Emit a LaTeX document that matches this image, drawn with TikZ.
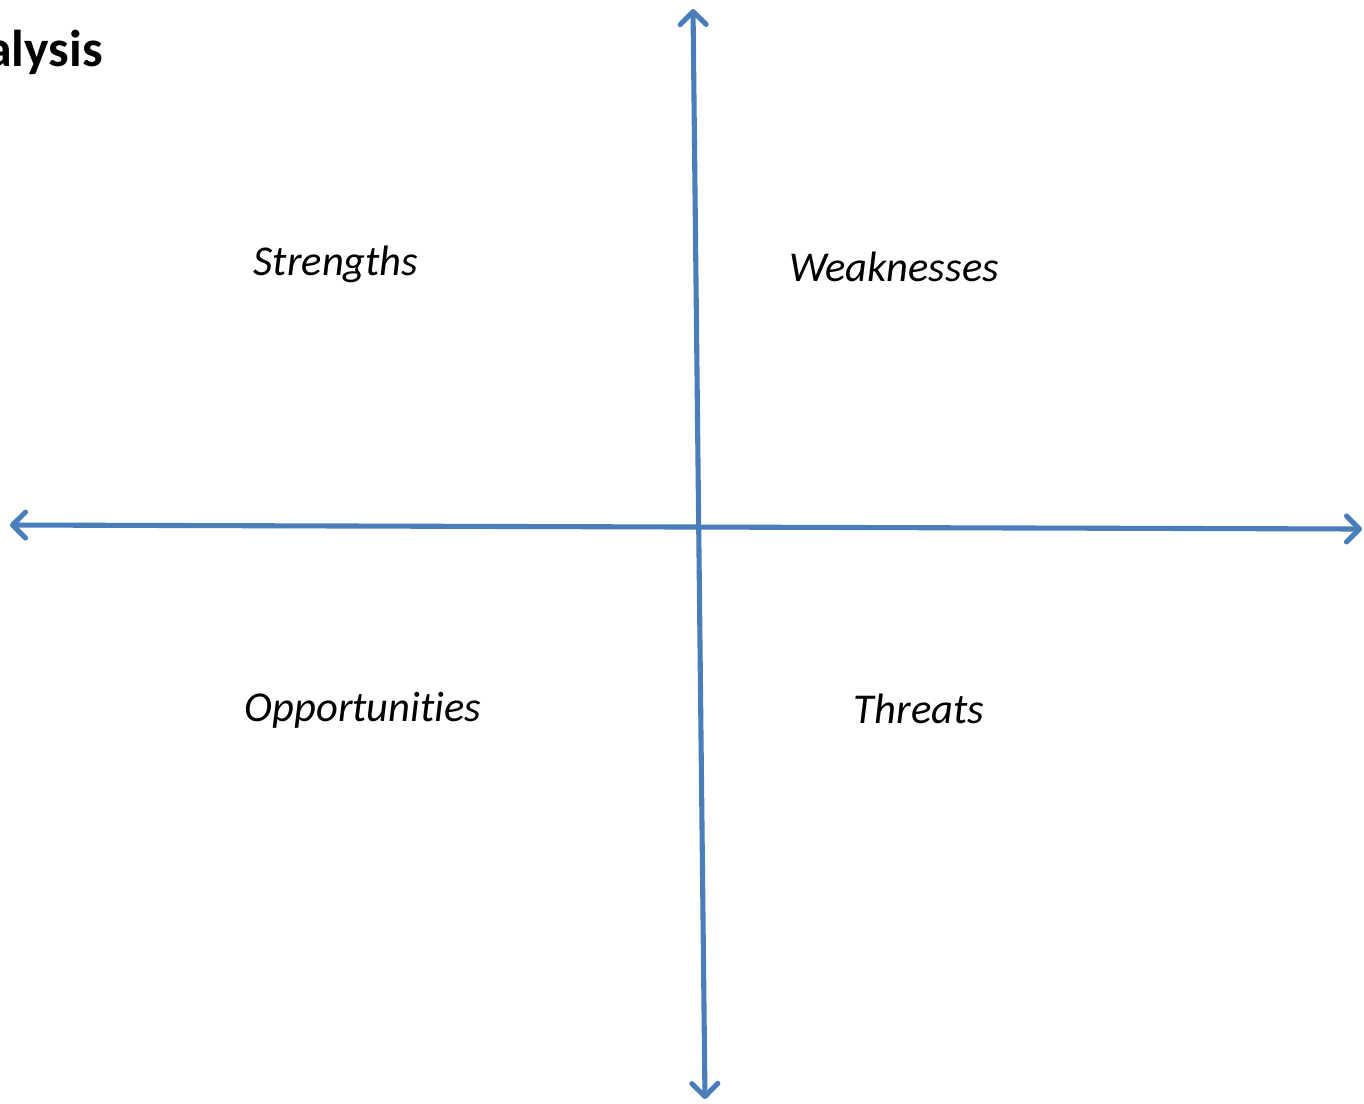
\documentclass[tikz,border=0pt]{standalone}
\usepackage{fontspec}
\setmainfont{Carlito}[Ligatures=NoCommon]
\usetikzlibrary{arrows.meta}
\definecolor{axisblue}{HTML}{4A7EBB}
\tikzset{
  axisline/.style={draw=axisblue, line width=2.9pt,
    {Straight Barb[length=0.26cm, width=0.52cm, round]}-{Straight Barb[length=0.26cm, width=0.52cm, round]}},
  quadlabel/.style={font=\fontsize{24.2}{29}\selectfont\itshape, inner sep=0pt}
}
\begin{document}
\begin{tikzpicture}[x=0.02cm, y=-0.02cm]
\useasboundingbox (0,0) rectangle (1364,1103);
% axes
\coordinate (top) at (693, 9);
\coordinate (bottom) at (705, 1099);
\coordinate (left) at (10, 525);
\coordinate (right) at (1362, 529);
\draw[axisline] (left) -- (right);
\draw[axisline] (top) -- (bottom);
% title, cut off at the left edge
\node[anchor=base east, font=\fontsize{29.5}{34}\selectfont\bfseries, inner sep=0pt] (title) at (103, 66) {alysis};
% quadrants
\node[quadlabel] (strengths) at (336, 264) {Strengths};
\node[quadlabel] (weaknesses) at (894, 267) {Weaknesses};
\node[quadlabel] (opportunities) at (363, 710) {Opportunities};
\node[quadlabel] (threats) at (919, 709) {Threats};
\end{tikzpicture}
\end{document}
